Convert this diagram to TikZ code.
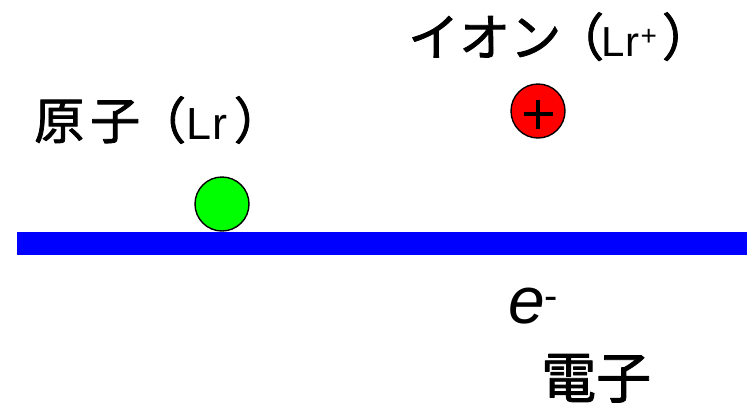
\documentclass[tikz,border=0pt]{standalone}
\usepackage{fontspec}
\setmainfont{Liberation Sans}
\newfontfamily\jp[FakeBold=1.6]{Noto Sans CJK JP}
\usepackage{tikz}
\usetikzlibrary{calc}

\begin{document}
\begin{tikzpicture}[x=1pt, y=-1pt, line join=round,
    ball/.style={circle, draw=black, line width=1.4pt, minimum size=54pt, inner sep=0pt},
    lbl/.style={anchor=base west, inner sep=0pt}]
  \useasboundingbox (0,0) rectangle (747,405);
  \coordinate (barL) at (17,232);
  \coordinate (barR) at (747,255);
  \fill[blue] (barL) rectangle (barR);
  \node[ball, fill=green] (atom) at (222,204) {};
  \node[ball, fill=red] (ion) at (538,111) {};
  \draw[line width=3.6pt] ($(ion.center)+(-14.5,3)$) -- ($(ion.center)+(14.5,3)$);
  \draw[line width=3.6pt] ($(ion.center)+(0,-11.5)$) -- ($(ion.center)+(0,17.5)$);
  \node[lbl] (atomlbl) at (34,139)
    {\fontsize{50}{50}\selectfont\jp 原\hspace{6pt}子\hspace{-4pt}（{\fontsize{45}{45}\selectfont\normalfont L\hspace{1.5pt}r}\hspace{6pt}）};
  \node[lbl] (ionlbl) at (408,56)
    {\fontsize{51}{51}\selectfont\jp イオン\hspace{-8pt}（\hspace{-3pt}{\fontsize{42}{42}\selectfont\normalfont L\hspace{1pt}r\hspace{1pt}\raisebox{11pt}{\fontsize{28}{28}\selectfont +}}\hspace{5pt}）};
  \node[lbl] (elec) at (508,323)
    {\fontsize{66}{66}\selectfont\itshape e\raisebox{14pt}{\fontsize{40}{40}\selectfont\upshape -}};
  \node[lbl] (eleclbl) at (541,398)
    {\fontsize{55}{55}\selectfont\jp 電子};
\end{tikzpicture}
\end{document}
